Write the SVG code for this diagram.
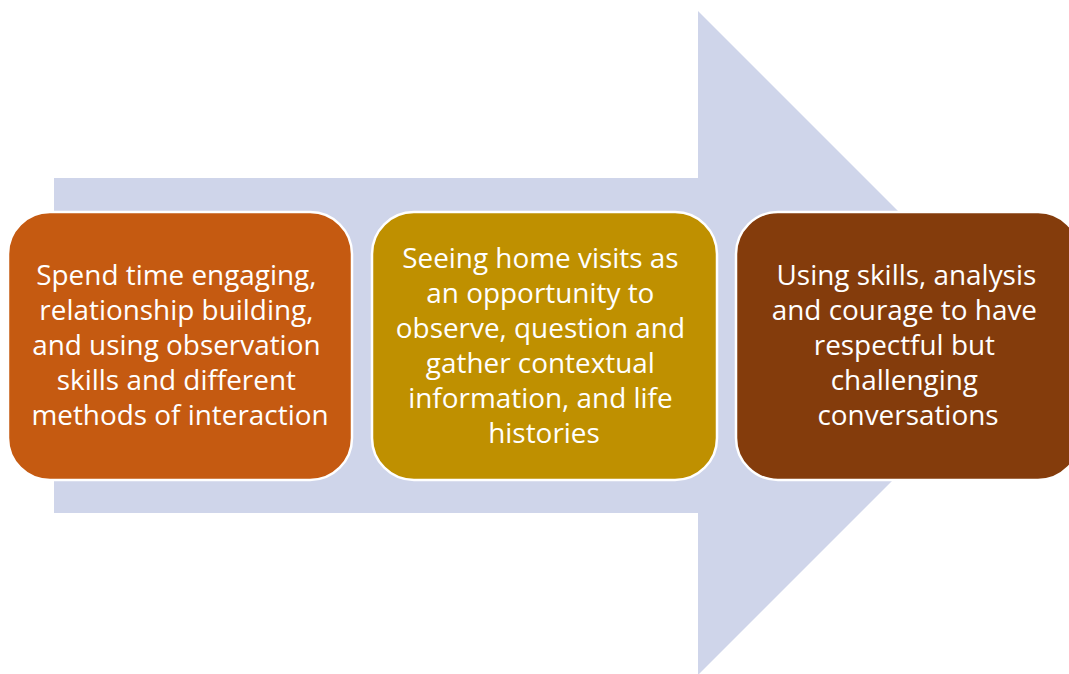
<svg xmlns="http://www.w3.org/2000/svg" width="1069" height="674" viewBox="0 0 1069 674">
  <style>
    .box { stroke: #ffffff; stroke-width: 2.5; }
    .label { font-family: "Open Sans", "Liberation Sans", sans-serif; font-size: 27.9px; fill: #ffffff; text-anchor: middle; }
  </style>
  <rect width="1069" height="674" fill="#ffffff"/>

  <!-- background process arrow -->
  <g id="connectors">
    <polygon id="flow-arrow" fill="#CFD5EA"
      points="54,178 698,178 698,11 1030,343 698,675 698,513 54,513"/>
  </g>

  <g id="step-1">
    <rect class="box" x="8" y="212" width="344" height="268" rx="42" fill="#C55A11"/>
    <text class="label">
      <tspan x="180" y="285">Spend time engaging,</tspan>
      <tspan x="180" y="320">relationship building,</tspan>
      <tspan x="180" y="355">and using observation</tspan>
      <tspan x="180" y="390">skills and different</tspan>
      <tspan x="180" y="425">methods of interaction</tspan>
    </text>
  </g>

  <g id="step-2">
    <rect class="box" x="372" y="212" width="345" height="268" rx="42" fill="#BF9000"/>
    <text class="label">
      <tspan x="544" y="268">Seeing home visits as</tspan>
      <tspan x="544" y="303">an opportunity to</tspan>
      <tspan x="544" y="338">observe, question and</tspan>
      <tspan x="544" y="373">gather contextual</tspan>
      <tspan x="544" y="408">information, and life</tspan>
      <tspan x="544" y="443">histories</tspan>
    </text>
  </g>

  <g id="step-3">
    <rect class="box" x="736" y="212" width="344" height="268" rx="42" fill="#843C0C"/>
    <text class="label">
      <tspan x="910" y="285">Using skills, analysis</tspan>
      <tspan x="908" y="320">and courage to have</tspan>
      <tspan x="908" y="355">respectful but</tspan>
      <tspan x="908" y="390">challenging</tspan>
      <tspan x="908" y="425">conversations</tspan>
    </text>
  </g>
</svg>
